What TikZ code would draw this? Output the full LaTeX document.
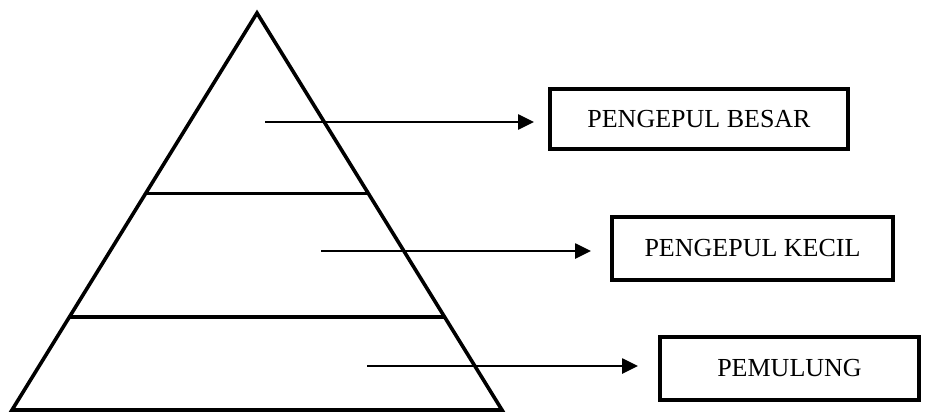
\documentclass[tikz,border=0pt]{standalone}
\usepackage{fontspec}
\setmainfont{Liberation Serif}
\usetikzlibrary{arrows.meta}
\begin{document}
\begin{tikzpicture}[x=1pt,y=-1pt,
  tri/.style={line width=3.6pt,line join=miter},
  level/.style={line width=3.6pt},
  arr/.style={line width=2.6pt,-{Triangle[length=16pt,width=15pt]}},
  lbl/.style={draw,line width=4pt,inner sep=0pt,font=\fontsize{26}{30}\selectfont}]
\useasboundingbox (0,0) rectangle (927,412);
\coordinate (apex) at (257,13);
\coordinate (bl) at (12,410);
\coordinate (br) at (502,410);
\draw[tri] (apex) -- (br) -- (bl) -- cycle;
\coordinate (l1a) at (146,193.5);
\coordinate (l1b) at (368,193.5);
\coordinate (l2a) at (70,317);
\coordinate (l2b) at (444,317);
\draw[level] (l1a) -- (l1b);
\draw[level] (l2a) -- (l2b);
\node[lbl,minimum width=298pt,minimum height=60pt] (besar) at (699,119) {PENGEPUL BESAR};
\node[lbl,minimum width=281pt,minimum height=63pt] (kecil) at (752.5,248.5) {PENGEPUL KECIL};
\node[lbl,minimum width=259pt,minimum height=63pt] (pemulung) at (789.5,368.5) {PEMULUNG};
\coordinate (s1) at (265,122);
\coordinate (t1) at (534,122);
\coordinate (s2) at (321,251);
\coordinate (t2) at (591,251);
\coordinate (s3) at (367,366);
\coordinate (t3) at (638,366);
\draw[arr] (s1) -- (t1);
\draw[arr] (s2) -- (t2);
\draw[arr] (s3) -- (t3);
\end{tikzpicture}
\end{document}
